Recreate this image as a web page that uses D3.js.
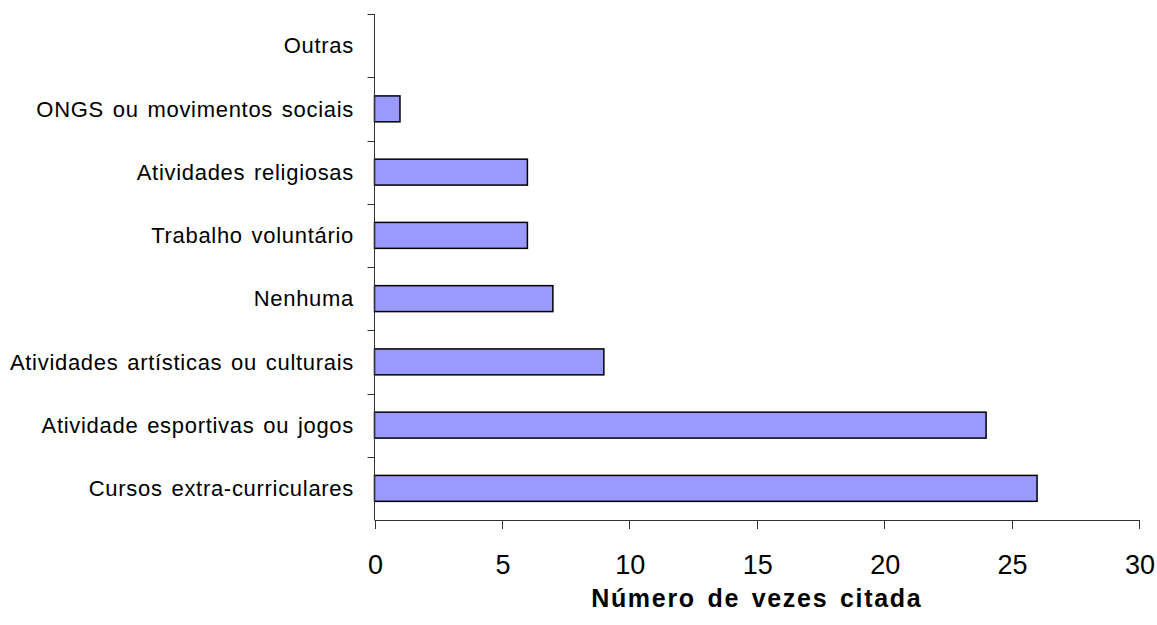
<!DOCTYPE html>
<html><head><meta charset="utf-8">
<script src="https://cdn.jsdelivr.net/npm/d3@7"></script>
<style>body{margin:0;background:#fff}svg{display:block}text{font-family:"Liberation Sans",Arial,sans-serif;fill:#000}</style>
</head><body>
<svg id="c" width="1157" height="625"></svg>
<script>
const categories = ["Outras","ONGS ou movimentos sociais","Atividades religiosas","Trabalho voluntário","Nenhuma","Atividades artísticas ou culturais","Atividade esportivas ou jogos","Cursos extra-curriculares"];
const values = [0,1,6,6,7,9,24,26];
const xTicks = [0,5,10,15,20,25,30];
const xTitle = "Número de vezes citada";

(function(){
const svg = d3.select("#c");
const pL = 374.5, pR = 1139, pT = 14, pB = 520;
const x = d3.scaleLinear().domain([0,30]).range([pL,pR]);
const y = d3.scaleBand().domain(categories).range([pT,pB]).paddingInner(0.59).paddingOuter(0.295);
const yEdges = d3.scaleLinear().domain([0,categories.length]).range([pT,pB]);

svg.append("g").selectAll("rect").data(values).join("rect")
  .attr("x", x(0)).attr("y",(d,i)=>y(categories[i]))
  .attr("width", d=>x(d)-x(0)).attr("height", y.bandwidth())
  .attr("fill","#9999ff").attr("stroke","#000").attr("stroke-width",1.5)
  .style("display", d=> d===0 ? "none" : null);

const ya = svg.append("g");
ya.append("line").attr("x1",pL).attr("x2",pL).attr("y1",pT).attr("y2",pB).attr("stroke","#333").attr("stroke-width",1);
ya.selectAll("line.t").data(d3.range(categories.length)).join("line").attr("class","t")
  .attr("x1",pL-7).attr("x2",pL).attr("y1",i=>Math.round(yEdges(i))+0.5).attr("y2",i=>Math.round(yEdges(i))+0.5)
  .attr("stroke","#333");
ya.selectAll("text").data(categories).join("text")
  .attr("x",354).attr("y",d=>y(d)+y.bandwidth()/2).attr("dy","0.35em")
  .attr("text-anchor","end").style("font-size","22px")
  .style("letter-spacing","0.7px").style("word-spacing","2px").text(d=>d);

const xa = svg.append("g");
xa.append("line").attr("x1",pL).attr("x2",pR).attr("y1",pB+0.5).attr("y2",pB+0.5).attr("stroke","#333");
xa.selectAll("line.t").data(xTicks).join("line").attr("class","t")
  .attr("x1",d=>Math.round(x(d))+0.5).attr("x2",d=>Math.round(x(d))+0.5).attr("y1",pB).attr("y2",pB+9).attr("stroke","#333");
xa.selectAll("text").data(xTicks).join("text")
  .attr("x",d=>x(d)+1).attr("y",574).attr("text-anchor","middle").style("font-size","27px").text(d=>d);

svg.append("text").attr("x",(pL+pR)/2).attr("y",607).attr("text-anchor","middle")
  .style("font-size","25px").style("font-weight","bold")
  .style("letter-spacing","1.7px").style("word-spacing","3px").text(xTitle);
})();
</script>
</body></html>
